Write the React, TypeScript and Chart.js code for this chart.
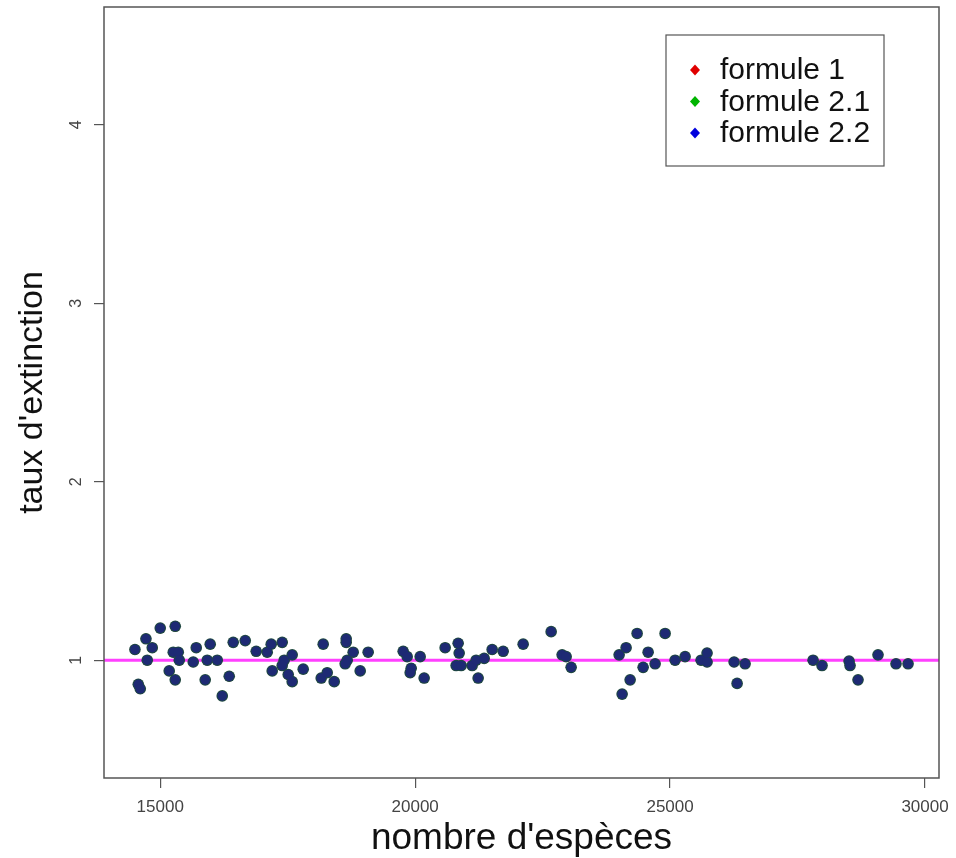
import React, { useEffect, useRef } from "react";
import { Chart, registerables } from "chart.js";

Chart.register(...registerables);

// nombre d'espèces (x) for each simulated point
const speciesCount = [
  14504, 14569, 14608, 14720, 14745, 14843, 15000, 15294, 15255, 15353,
  15373, 15176, 15294, 15706, 15647, 15882, 15980, 15922, 16118, 16216,
  16353, 16431, 16667, 16882, 17098, 17176, 17392, 17196, 17431, 17588,
  17392, 17510, 17588, 17804, 18196, 18157, 18275, 18412, 18647, 18647,
  18784, 18667, 18627, 18922, 19078, 19765, 19843, 20098, 19922, 19902,
  20176, 20588, 20843, 20863, 20804, 20902, 21118, 21196, 21353, 21235,
  21510, 21726, 22118, 22667, 22882, 22961, 23059, 24000, 24137, 24216,
  24059, 24353, 24569, 24471, 24706, 24902, 25098, 25294, 25608, 25725,
  25725, 26255, 26314, 26471, 27804, 27980, 28510, 28529, 28686, 29078,
  29431, 29667,
];

// taux d'extinction — the three formulas coincide on the picture
const rateFormule1 = [
  1.06, 0.865, 0.84, 1.12, 1.0, 1.07, 1.18, 1.19, 1.045, 1.045,
  1.0, 0.94, 0.89, 1.07, 0.99, 0.89, 1.09, 1.0, 1.0, 0.8,
  0.91, 1.1, 1.11, 1.05, 1.045, 1.09, 1.1, 0.94, 1.0, 1.03,
  0.97, 0.92, 0.88, 0.95, 1.09, 0.9, 0.93, 0.88, 1.12, 1.1,
  1.045, 1.0, 0.98, 0.94, 1.045, 1.05, 1.02, 1.02, 0.955, 0.93,
  0.9, 1.07, 1.095, 1.04, 0.97, 0.97, 0.97, 1.0, 1.01, 0.9,
  1.06, 1.05, 1.09, 1.16, 1.03, 1.02, 0.96, 1.03, 1.07, 0.89,
  0.81, 1.15, 1.045, 0.96, 0.98, 1.15, 1.0, 1.02, 1.0, 1.04,
  0.99, 0.99, 0.87, 0.98, 1.0, 0.97, 0.995, 0.97, 0.89, 1.03,
  0.98, 0.98,
];
const rateFormule21 = rateFormule1;
const rateFormule22 = rateFormule1;

const seriesLabels = ["formule 1", "formule 2.1", "formule 2.2"];
const legendColors = ["#e00000", "#00b400", "#0000dd"];

const xTicks = [15000, 20000, 25000, 30000];
const yTicks = [1, 2, 3, 4];
const X_MIN = 13897;
const X_MAX = 30274;
const Y_MIN = 0.34;
const Y_MAX = 4.66;
const REFERENCE_RATE = 1;

const FONT = "'Liberation Sans', Arial, Helvetica, sans-serif";

function pts(ys: number[]) {
  return speciesCount.map((x, i) => ({ x, y: ys[i] }));
}

const boxPlugin = {
  id: "box",
  afterDraw(chart: any) {
    const { ctx, chartArea } = chart;
    ctx.save();
    ctx.strokeStyle = "#555";
    ctx.lineWidth = 1.5;
    ctx.strokeRect(chartArea.left, chartArea.top, chartArea.right - chartArea.left, chartArea.bottom - chartArea.top);
    ctx.restore();
  },
};

const legendPlugin = {
  id: "rlegend",
  afterDraw(chart: any) {
    const { ctx } = chart;
    const bx = 666, by = 35, bw = 218, bh = 131;
    ctx.save();
    ctx.fillStyle = "#fff";
    ctx.fillRect(bx, by, bw, bh);
    ctx.strokeStyle = "#555";
    ctx.lineWidth = 1.2;
    ctx.strokeRect(bx, by, bw, bh);
    ctx.font = `30px ${FONT}`;
    ctx.textBaseline = "middle";
    ctx.textAlign = "left";
    seriesLabels.forEach((label, i) => {
      const cy = by + 35 + i * 31.5;
      const cx = bx + 29;
      ctx.fillStyle = legendColors[i];
      ctx.beginPath();
      ctx.moveTo(cx, cy - 5.5);
      ctx.lineTo(cx + 5, cy);
      ctx.lineTo(cx, cy + 5.5);
      ctx.lineTo(cx - 5, cy);
      ctx.closePath();
      ctx.fill();
      ctx.fillStyle = "#111";
      ctx.fillText(label, bx + 54, cy + 1);
    });
    ctx.restore();
  },
};

export default function App() {
  const ref = useRef<HTMLCanvasElement>(null);
  useEffect(() => {
    document.body.style.margin = "0";
    const canvas = ref.current!;
    const chart = new Chart(canvas, {
      type: "scatter",
      data: {
        datasets: [
          {
            label: seriesLabels[2],
            data: pts(rateFormule22),
            backgroundColor: "#1e2a74",
            borderColor: "#1e2a74",
            borderWidth: 0,
            pointRadius: 4.8,
            order: 1,
          },
          {
            label: seriesLabels[1],
            data: pts(rateFormule21),
            backgroundColor: "#1f4a40",
            borderColor: "#1f4a40",
            borderWidth: 0,
            pointRadius: 5.8,
            order: 2,
          },
          {
            label: seriesLabels[0],
            data: pts(rateFormule1),
            backgroundColor: "#6a1a30",
            borderColor: "#6a1a30",
            borderWidth: 0,
            pointRadius: 5.2,
            order: 3,
          },
          {
            type: "line",
            label: "référence",
            data: [
              { x: X_MIN, y: REFERENCE_RATE },
              { x: X_MAX, y: REFERENCE_RATE },
            ],
            borderColor: "#ff40ff",
            borderWidth: 3,
            pointRadius: 0,
            order: 4,
          } as any,
        ],
      },
      options: {
        animation: false,
        responsive: false,
        devicePixelRatio: 1,
        layout: { padding: { top: 7, right: 17, left: 0, bottom: 0 } },
        plugins: { legend: { display: false }, tooltip: { enabled: false } },
        scales: {
          x: {
            type: "linear",
            position: "bottom",
            min: X_MIN,
            max: X_MAX,
            afterBuildTicks: (s: any) => {
              s.ticks = xTicks.map((v) => ({ value: v }));
            },
            afterFit: (s: any) => {
              s.height = 80;
              s.paddingLeft = 0;
              s.paddingRight = 0;
            },
            border: { display: false },
            grid: { drawOnChartArea: false, drawTicks: true, tickLength: 10, color: "#555", lineWidth: 1.2 },
            ticks: {
              font: { family: FONT, size: 17 },
              color: "#444",
              padding: 9,
              maxRotation: 0,
              callback: (v: any) => String(v),
            },
            title: {
              display: true,
              text: "nombre d'espèces",
              font: { family: FONT, size: 37, lineHeight: 1.0 },
              color: "#111",
              padding: 1,
            },
          },
          y: {
            type: "linear",
            position: "left",
            min: Y_MIN,
            max: Y_MAX,
            afterBuildTicks: (s: any) => {
              s.ticks = yTicks.map((v) => ({ value: v }));
            },
            afterFit: (s: any) => {
              s.width = 104;
              s.paddingTop = 0;
              s.paddingBottom = 0;
            },
            border: { display: false },
            grid: { drawOnChartArea: false, drawTicks: true, tickLength: 10, color: "#555", lineWidth: 1.2 },
            ticks: {
              font: { family: FONT, size: 16 },
              color: "#444",
              padding: 13,
              minRotation: 90,
              maxRotation: 90,
              crossAlign: "center",
              callback: (v: any) => String(v),
            },
            title: {
              display: true,
              text: "taux d'extinction",
              font: { family: FONT, size: 34 },
              color: "#111",
              padding: 12,
            },
          },
        },
      },
      plugins: [boxPlugin, legendPlugin],
    });
    return () => chart.destroy();
  }, []);
  return <canvas ref={ref} width={956} height={858} style={{ display: "block" }} />;
}
